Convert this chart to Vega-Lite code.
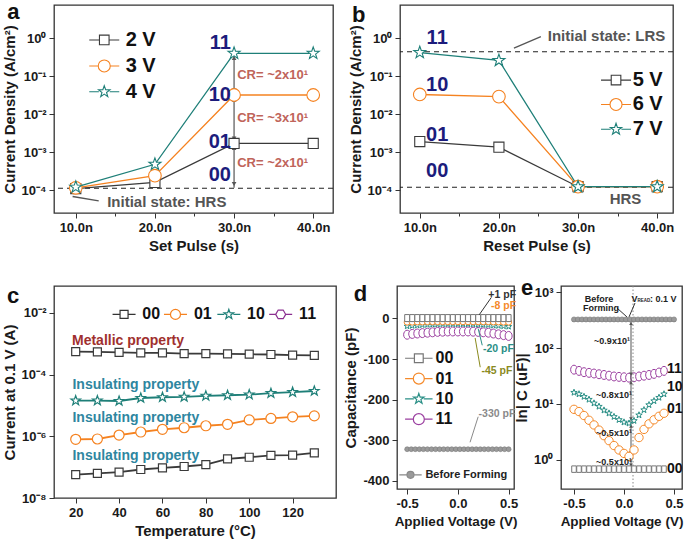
{
"$schema": "https://vega.github.io/schema/vega-lite/v6.json",
"background": "white",
"padding": {"left": 1, "top": 0, "right": 5, "bottom": 5},
"bounds": "full",
"spacing": 22,
"config": {
  "font": "Liberation Sans",
  "view": {"stroke": "#333", "strokeWidth": 1.3},
  "axis": {"grid": false, "domain": false, "labelFont": "Liberation Sans", "labelFontSize": 13, "labelFontWeight": "bold", "labelColor": "#1a1a1a", "titleFont": "Liberation Sans", "titleFontSize": 15, "titleFontWeight": "bold", "titleColor": "#1a1a1a", "tickColor": "#333", "tickSize": 5, "labelPadding": 3, "labelFlush": false, "labelOverlap": false},
  "text": {"font": "Liberation Sans", "fontWeight": "bold", "baseline": "middle"}
},
"datasets": {
  "setPulse": [
    {"pulse_ns": 10, "bias": "2 V", "J": 0.00011}, {"pulse_ns": 20, "bias": "2 V", "J": 0.00016}, {"pulse_ns": 30, "bias": "2 V", "J": 0.0017}, {"pulse_ns": 40, "bias": "2 V", "J": 0.0017},
    {"pulse_ns": 10, "bias": "3 V", "J": 0.000115}, {"pulse_ns": 20, "bias": "3 V", "J": 0.00024}, {"pulse_ns": 30, "bias": "3 V", "J": 0.032}, {"pulse_ns": 40, "bias": "3 V", "J": 0.032},
    {"pulse_ns": 10, "bias": "4 V", "J": 0.00012}, {"pulse_ns": 20, "bias": "4 V", "J": 0.00048}, {"pulse_ns": 30, "bias": "4 V", "J": 0.4}, {"pulse_ns": 40, "bias": "4 V", "J": 0.4}
  ],
  "resetPulse": [
    {"pulse_ns": 10, "bias": "5 V", "J": 0.0019}, {"pulse_ns": 20, "bias": "5 V", "J": 0.00135}, {"pulse_ns": 30, "bias": "5 V", "J": 0.000123}, {"pulse_ns": 40, "bias": "5 V", "J": 0.000123},
    {"pulse_ns": 10, "bias": "6 V", "J": 0.033}, {"pulse_ns": 20, "bias": "6 V", "J": 0.029}, {"pulse_ns": 30, "bias": "6 V", "J": 0.000123}, {"pulse_ns": 40, "bias": "6 V", "J": 0.000123},
    {"pulse_ns": 10, "bias": "7 V", "J": 0.42}, {"pulse_ns": 20, "bias": "7 V", "J": 0.26}, {"pulse_ns": 30, "bias": "7 V", "J": 0.000123}, {"pulse_ns": 40, "bias": "7 V", "J": 0.000123}
  ],
  "temperature": [
    {"T": 20, "state": "00", "I": 5.7e-8}, {"T": 30, "state": "00", "I": 6.3e-8}, {"T": 40, "state": "00", "I": 6.9e-8}, {"T": 50, "state": "00", "I": 8.4e-8}, {"T": 60, "state": "00", "I": 9.5e-8}, {"T": 70, "state": "00", "I": 1.05e-7}, {"T": 80, "state": "00", "I": 1.2e-7}, {"T": 90, "state": "00", "I": 1.85e-7}, {"T": 100, "state": "00", "I": 2.1e-7}, {"T": 110, "state": "00", "I": 2.4e-7}, {"T": 120, "state": "00", "I": 2.45e-7}, {"T": 130, "state": "00", "I": 2.9e-7},
    {"T": 20, "state": "01", "I": 8.0e-7}, {"T": 30, "state": "01", "I": 8.2e-7}, {"T": 40, "state": "01", "I": 1.1e-6}, {"T": 50, "state": "01", "I": 1.38e-6}, {"T": 60, "state": "01", "I": 1.69e-6}, {"T": 70, "state": "01", "I": 1.9e-6}, {"T": 80, "state": "01", "I": 2.2e-6}, {"T": 90, "state": "01", "I": 2.45e-6}, {"T": 100, "state": "01", "I": 3.4e-6}, {"T": 110, "state": "01", "I": 3.8e-6}, {"T": 120, "state": "01", "I": 4.3e-6}, {"T": 130, "state": "01", "I": 4.6e-6},
    {"T": 20, "state": "10", "I": 1.44e-5}, {"T": 30, "state": "10", "I": 1.44e-5}, {"T": 40, "state": "10", "I": 1.4e-5}, {"T": 50, "state": "10", "I": 1.75e-5}, {"T": 60, "state": "10", "I": 1.85e-5}, {"T": 70, "state": "10", "I": 1.9e-5}, {"T": 80, "state": "10", "I": 2.05e-5}, {"T": 90, "state": "10", "I": 2.15e-5}, {"T": 100, "state": "10", "I": 2.25e-5}, {"T": 110, "state": "10", "I": 2.5e-5}, {"T": 120, "state": "10", "I": 2.7e-5}, {"T": 130, "state": "10", "I": 2.95e-5},
    {"T": 20, "state": "11", "I": 5.6e-4}, {"T": 30, "state": "11", "I": 5.5e-4}, {"T": 40, "state": "11", "I": 5.3e-4}, {"T": 50, "state": "11", "I": 5.1e-4}, {"T": 60, "state": "11", "I": 5.1e-4}, {"T": 70, "state": "11", "I": 4.8e-4}, {"T": 80, "state": "11", "I": 4.8e-4}, {"T": 90, "state": "11", "I": 4.7e-4}, {"T": 100, "state": "11", "I": 4.6e-4}, {"T": 110, "state": "11", "I": 4.5e-4}, {"T": 120, "state": "11", "I": 4.3e-4}, {"T": 130, "state": "11", "I": 4.2e-4}
  ],
  "capD": [
    {"V": -0.5, "state": "11", "C": -40}, {"V": -0.45, "state": "11", "C": -38}, {"V": -0.4, "state": "11", "C": -37}, {"V": -0.35, "state": "11", "C": -36}, {"V": -0.3, "state": "11", "C": -35}, {"V": -0.25, "state": "11", "C": -34}, {"V": -0.2, "state": "11", "C": -33}, {"V": -0.15, "state": "11", "C": -32.5}, {"V": -0.1, "state": "11", "C": -32}, {"V": -0.05, "state": "11", "C": -32}, {"V": 0, "state": "11", "C": -32}, {"V": 0.05, "state": "11", "C": -32}, {"V": 0.1, "state": "11", "C": -32}, {"V": 0.15, "state": "11", "C": -32.5}, {"V": 0.2, "state": "11", "C": -33}, {"V": 0.25, "state": "11", "C": -34}, {"V": 0.3, "state": "11", "C": -35}, {"V": 0.35, "state": "11", "C": -37}, {"V": 0.4, "state": "11", "C": -39}, {"V": 0.45, "state": "11", "C": -41}, {"V": 0.5, "state": "11", "C": -43},
    {"V": -0.5, "state": "10", "C": -19}, {"V": -0.45, "state": "10", "C": -18}, {"V": -0.4, "state": "10", "C": -17}, {"V": -0.35, "state": "10", "C": -16}, {"V": -0.3, "state": "10", "C": -15.5}, {"V": -0.25, "state": "10", "C": -15}, {"V": -0.2, "state": "10", "C": -14.5}, {"V": -0.15, "state": "10", "C": -14}, {"V": -0.1, "state": "10", "C": -14}, {"V": -0.05, "state": "10", "C": -14}, {"V": 0, "state": "10", "C": -14}, {"V": 0.05, "state": "10", "C": -14}, {"V": 0.1, "state": "10", "C": -14}, {"V": 0.15, "state": "10", "C": -14.5}, {"V": 0.2, "state": "10", "C": -15}, {"V": 0.25, "state": "10", "C": -15.5}, {"V": 0.3, "state": "10", "C": -16}, {"V": 0.35, "state": "10", "C": -17}, {"V": 0.4, "state": "10", "C": -18}, {"V": 0.45, "state": "10", "C": -19}, {"V": 0.5, "state": "10", "C": -20},
    {"V": -0.5, "state": "01", "C": -9}, {"V": -0.45, "state": "01", "C": -9}, {"V": -0.4, "state": "01", "C": -8.5}, {"V": -0.35, "state": "01", "C": -8.5}, {"V": -0.3, "state": "01", "C": -8}, {"V": -0.25, "state": "01", "C": -8}, {"V": -0.2, "state": "01", "C": -8}, {"V": -0.15, "state": "01", "C": -8}, {"V": -0.1, "state": "01", "C": -8}, {"V": -0.05, "state": "01", "C": -8}, {"V": 0, "state": "01", "C": -8}, {"V": 0.05, "state": "01", "C": -8}, {"V": 0.1, "state": "01", "C": -8}, {"V": 0.15, "state": "01", "C": -8}, {"V": 0.2, "state": "01", "C": -8}, {"V": 0.25, "state": "01", "C": -8}, {"V": 0.3, "state": "01", "C": -8}, {"V": 0.35, "state": "01", "C": -8.5}, {"V": 0.4, "state": "01", "C": -8.5}, {"V": 0.45, "state": "01", "C": -9}, {"V": 0.5, "state": "01", "C": -9},
    {"V": -0.5, "state": "00", "C": 1}, {"V": -0.45, "state": "00", "C": 1}, {"V": -0.4, "state": "00", "C": 1}, {"V": -0.35, "state": "00", "C": 1}, {"V": -0.3, "state": "00", "C": 1}, {"V": -0.25, "state": "00", "C": 1}, {"V": -0.2, "state": "00", "C": 1}, {"V": -0.15, "state": "00", "C": 1}, {"V": -0.1, "state": "00", "C": 1}, {"V": -0.05, "state": "00", "C": 1}, {"V": 0, "state": "00", "C": 1}, {"V": 0.05, "state": "00", "C": 1}, {"V": 0.1, "state": "00", "C": 1}, {"V": 0.15, "state": "00", "C": 1}, {"V": 0.2, "state": "00", "C": 1}, {"V": 0.25, "state": "00", "C": 1}, {"V": 0.3, "state": "00", "C": 1}, {"V": 0.35, "state": "00", "C": 1}, {"V": 0.4, "state": "00", "C": 1}, {"V": 0.45, "state": "00", "C": 1}, {"V": 0.5, "state": "00", "C": 1}
  ],
  "bfD": [
    {"V": -0.5, "C": -322}, {"V": -0.46, "C": -322}, {"V": -0.42, "C": -322}, {"V": -0.38, "C": -322}, {"V": -0.34, "C": -322}, {"V": -0.3, "C": -322}, {"V": -0.26, "C": -322}, {"V": -0.22, "C": -322}, {"V": -0.18, "C": -322}, {"V": -0.14, "C": -322}, {"V": -0.1, "C": -322}, {"V": -0.06, "C": -322}, {"V": -0.02, "C": -322}, {"V": 0.02, "C": -322}, {"V": 0.06, "C": -322}, {"V": 0.1, "C": -322}, {"V": 0.14, "C": -322}, {"V": 0.18, "C": -322}, {"V": 0.22, "C": -322}, {"V": 0.26, "C": -322}, {"V": 0.3, "C": -322}, {"V": 0.34, "C": -322}, {"V": 0.38, "C": -322}, {"V": 0.42, "C": -322}, {"V": 0.46, "C": -322}, {"V": 0.5, "C": -322}
  ],
  "capE": [
    {"V": -0.5, "state": "11", "C": 41}, {"V": -0.45, "state": "11", "C": 39}, {"V": -0.4, "state": "11", "C": 37}, {"V": -0.35, "state": "11", "C": 36}, {"V": -0.3, "state": "11", "C": 35}, {"V": -0.25, "state": "11", "C": 34}, {"V": -0.2, "state": "11", "C": 33}, {"V": -0.15, "state": "11", "C": 32}, {"V": -0.1, "state": "11", "C": 31}, {"V": -0.05, "state": "11", "C": 30.5}, {"V": 0, "state": "11", "C": 30}, {"V": 0.05, "state": "11", "C": 29.5}, {"V": 0.1, "state": "11", "C": 30}, {"V": 0.15, "state": "11", "C": 31}, {"V": 0.2, "state": "11", "C": 32}, {"V": 0.25, "state": "11", "C": 33}, {"V": 0.3, "state": "11", "C": 34.5}, {"V": 0.35, "state": "11", "C": 36.5}, {"V": 0.4, "state": "11", "C": 39},
    {"V": -0.5, "state": "10", "C": 16}, {"V": -0.45, "state": "10", "C": 15}, {"V": -0.4, "state": "10", "C": 13.5}, {"V": -0.35, "state": "10", "C": 12}, {"V": -0.3, "state": "10", "C": 10.3}, {"V": -0.25, "state": "10", "C": 9}, {"V": -0.2, "state": "10", "C": 7.7}, {"V": -0.15, "state": "10", "C": 6.8}, {"V": -0.1, "state": "10", "C": 5.9}, {"V": -0.05, "state": "10", "C": 5.2}, {"V": 0, "state": "10", "C": 4.7}, {"V": 0.05, "state": "10", "C": 4.5}, {"V": 0.1, "state": "10", "C": 5.0}, {"V": 0.15, "state": "10", "C": 6.3}, {"V": 0.2, "state": "10", "C": 7.8}, {"V": 0.25, "state": "10", "C": 9.6}, {"V": 0.3, "state": "10", "C": 11.3}, {"V": 0.35, "state": "10", "C": 13}, {"V": 0.4, "state": "10", "C": 15},
    {"V": -0.5, "state": "01", "C": 8}, {"V": -0.45, "state": "01", "C": 7.3}, {"V": -0.4, "state": "01", "C": 6.2}, {"V": -0.35, "state": "01", "C": 5.1}, {"V": -0.3, "state": "01", "C": 4.2}, {"V": -0.25, "state": "01", "C": 3.4}, {"V": -0.2, "state": "01", "C": 2.7}, {"V": -0.15, "state": "01", "C": 2.2}, {"V": -0.1, "state": "01", "C": 1.8}, {"V": -0.05, "state": "01", "C": 1.5}, {"V": 0, "state": "01", "C": 1.3}, {"V": 0.05, "state": "01", "C": 1.15}, {"V": 0.1, "state": "01", "C": 1.5}, {"V": 0.15, "state": "01", "C": 2.5}, {"V": 0.2, "state": "01", "C": 3.5}, {"V": 0.25, "state": "01", "C": 4.4}, {"V": 0.3, "state": "01", "C": 5.2}, {"V": 0.35, "state": "01", "C": 6.0}, {"V": 0.4, "state": "01", "C": 6.8},
    {"V": -0.5, "state": "00", "C": 0.68}, {"V": -0.45, "state": "00", "C": 0.68}, {"V": -0.4, "state": "00", "C": 0.68}, {"V": -0.35, "state": "00", "C": 0.68}, {"V": -0.3, "state": "00", "C": 0.68}, {"V": -0.25, "state": "00", "C": 0.68}, {"V": -0.2, "state": "00", "C": 0.68}, {"V": -0.15, "state": "00", "C": 0.68}, {"V": -0.1, "state": "00", "C": 0.68}, {"V": -0.05, "state": "00", "C": 0.68}, {"V": 0, "state": "00", "C": 0.68}, {"V": 0.05, "state": "00", "C": 0.68}, {"V": 0.1, "state": "00", "C": 0.68}, {"V": 0.15, "state": "00", "C": 0.68}, {"V": 0.2, "state": "00", "C": 0.68}, {"V": 0.25, "state": "00", "C": 0.68}, {"V": 0.3, "state": "00", "C": 0.68}, {"V": 0.35, "state": "00", "C": 0.68}, {"V": 0.4, "state": "00", "C": 0.68}
  ],
  "bfE": [
    {"V": -0.5, "C": 325}, {"V": -0.46, "C": 325}, {"V": -0.42, "C": 325}, {"V": -0.38, "C": 325}, {"V": -0.34, "C": 325}, {"V": -0.3, "C": 325}, {"V": -0.26, "C": 325}, {"V": -0.22, "C": 325}, {"V": -0.18, "C": 325}, {"V": -0.14, "C": 325}, {"V": -0.1, "C": 325}, {"V": -0.06, "C": 325}, {"V": -0.02, "C": 325}, {"V": 0.02, "C": 325}, {"V": 0.06, "C": 325}, {"V": 0.1, "C": 325}, {"V": 0.14, "C": 325}, {"V": 0.18, "C": 325}, {"V": 0.22, "C": 325}, {"V": 0.26, "C": 325}, {"V": 0.3, "C": 325}, {"V": 0.34, "C": 325}, {"V": 0.38, "C": 325}, {"V": 0.42, "C": 325}, {"V": 0.46, "C": 325}, {"V": 0.5, "C": 325}
  ]
},
"vconcat": [
  {"hconcat": [
    {"width": 279, "height": 208, "layer": [
      {"data": {"values": [{}]}, "mark": {"type": "rule", "strokeDash": [5, 4], "color": "#222", "strokeWidth": 1.2}, "encoding": {"y": {"datum": 0.000112}}},
      {"data": {"values": [{}]}, "mark": {"type": "rule", "color": "#555", "strokeWidth": 1.2}, "encoding": {"x": {"datum": 30}, "y": {"datum": 0.38}, "y2": {"datum": 0.000115}}},
      {"data": {"values": [{}]}, "mark": {"type": "point", "shape": "triangle-up", "size": 22, "filled": true, "color": "#555", "opacity": 1}, "encoding": {"x": {"datum": 30}, "y": {"datum": 0.3}}},
      {"data": {"values": [{}]}, "mark": {"type": "point", "shape": "triangle-down", "size": 22, "filled": true, "color": "#555", "opacity": 1}, "encoding": {"x": {"datum": 30}, "y": {"datum": 0.042}}},
      {"data": {"values": [{}]}, "mark": {"type": "point", "shape": "triangle-up", "size": 22, "filled": true, "color": "#555", "opacity": 1}, "encoding": {"x": {"datum": 30}, "y": {"datum": 0.024}}},
      {"data": {"values": [{}]}, "mark": {"type": "point", "shape": "triangle-down", "size": 22, "filled": true, "color": "#555", "opacity": 1}, "encoding": {"x": {"datum": 30}, "y": {"datum": 0.0023}}},
      {"data": {"values": [{}]}, "mark": {"type": "point", "shape": "triangle-up", "size": 22, "filled": true, "color": "#555", "opacity": 1}, "encoding": {"x": {"datum": 30}, "y": {"datum": 0.00128}}},
      {"data": {"values": [{}]}, "mark": {"type": "point", "shape": "triangle-down", "size": 22, "filled": true, "color": "#555", "opacity": 1}, "encoding": {"x": {"datum": 30}, "y": {"datum": 0.000145}}},
      {"data": {"values": [{}]}, "mark": {"type": "rule", "color": "#555", "strokeWidth": 1.3}, "encoding": {"x": {"datum": 12.9}, "y": {"datum": 0.000052}, "x2": {"datum": 9.6}, "y2": {"datum": 0.000068}}},
      {"data": {"name": "setPulse"}, "mark": {"type": "line", "strokeWidth": 1.3},
       "encoding": {
         "x": {"field": "pulse_ns", "type": "quantitative", "scale": {"domain": [7.25, 42.5], "nice": false, "zero": false}, "axis": {"values": [10, 15, 20, 25, 30, 35, 40], "labelExpr": "datum.value % 10 == 0 ? datum.value + '.0n' : ''", "tickSize": {"condition": {"test": "datum.value % 10 != 0", "value": 3}, "value": 5}, "title": "Set Pulse (s)"}},
         "y": {"field": "J", "type": "quantitative", "scale": {"type": "log", "domain": [0.000025, 7.5], "nice": false}, "axis": {"values": [0.0001, 0.001, 0.01, 0.1, 1], "labelExpr": "'10' + replace(replace(replace(replace(replace(replace(replace(replace(replace(replace('' + round(log(datum.value) / LN10), '-', '⁻'), '0', '⁰'), '1', '¹'), '2', '²'), '3', '³'), '4', '⁴'), '5', '⁵'), '6', '⁶'), '7', '⁷'), '8', '⁸')", "title": "Current Density (A/cm²)"}},
         "stroke": {"field": "bias", "type": "nominal", "scale": {"domain": ["2 V", "3 V", "4 V"], "range": ["#3a3a3a", "#F58220", "#1E7F78"]}, "legend": null}
       }},
      {"data": {"name": "setPulse"}, "mark": {"type": "point", "filled": true, "fill": "white", "opacity": 1, "size": 160, "strokeWidth": 1.1},
       "encoding": {
         "x": {"field": "pulse_ns", "type": "quantitative"},
         "y": {"field": "J", "type": "quantitative"},
         "stroke": {"field": "bias", "type": "nominal", "legend": null},
         "shape": {"field": "bias", "type": "nominal", "scale": {"domain": ["2 V", "3 V", "4 V"], "range": ["M-0.8,-0.8H0.8V0.8H-0.8Z", "circle", "M0,-1L0.235,-0.324L0.951,-0.309L0.38,0.124L0.588,0.809L0,0.4L-0.588,0.809L-0.38,0.124L-0.951,-0.309L-0.235,-0.324Z"]}, "legend": null}
       }},
      {"data": {"values": [{}]}, "mark": {"type": "text", "text": "11", "align": "right", "fontSize": 20, "color": "#1C1C7C"}, "encoding": {"x": {"datum": 29.6}, "y": {"datum": 0.74}}},
      {"data": {"values": [{}]}, "mark": {"type": "text", "text": "10", "align": "right", "fontSize": 20, "color": "#1C1C7C"}, "encoding": {"x": {"datum": 29.6}, "y": {"datum": 0.032}}},
      {"data": {"values": [{}]}, "mark": {"type": "text", "text": "01", "align": "right", "fontSize": 20, "color": "#1C1C7C"}, "encoding": {"x": {"datum": 29.6}, "y": {"datum": 0.0019}}},
      {"data": {"values": [{}]}, "mark": {"type": "text", "text": "00", "align": "right", "fontSize": 20, "color": "#1C1C7C"}, "encoding": {"x": {"datum": 29.6}, "y": {"datum": 0.00025}}},
      {"data": {"values": [{}]}, "mark": {"type": "text", "text": "CR= ~2x10¹", "align": "left", "fontSize": 13, "color": "#C0645A"}, "encoding": {"x": {"datum": 30.4}, "y": {"datum": 0.107}}},
      {"data": {"values": [{}]}, "mark": {"type": "text", "text": "CR= ~3x10¹", "align": "left", "fontSize": 13, "color": "#C0645A"}, "encoding": {"x": {"datum": 30.4}, "y": {"datum": 0.0079}}},
      {"data": {"values": [{}]}, "mark": {"type": "text", "text": "CR= ~2x10¹", "align": "left", "fontSize": 13, "color": "#C0645A"}, "encoding": {"x": {"datum": 30.4}, "y": {"datum": 0.00051}}},
      {"data": {"values": [{}]}, "mark": {"type": "text", "text": "Initial state: HRS", "align": "center", "fontSize": 15, "color": "#555"}, "encoding": {"x": {"datum": 21.5}, "y": {"datum": 0.00005}}},
      {"data": {"values": [{}]}, "mark": {"type": "text", "text": "a", "align": "left", "fontSize": 22, "color": "#111"}, "encoding": {"x": {"datum": 1.33}, "y": {"datum": 4.9}}},
      {"data": {"values": [{}]}, "mark": {"type": "point", "shape": "M-2.5,0H-0.8M0.8,0H2.5M-0.8,-0.8H0.8V0.8H-0.8Z", "size": 144, "filled": true, "fill": "white", "stroke": "#3a3a3a", "strokeWidth": 1.1, "opacity": 1}, "encoding": {"x": {"datum": 13.6}, "y": {"datum": 0.9}}},
      {"data": {"values": [{}]}, "mark": {"type": "point", "shape": "M-2.5,0H-1M1,0H2.5M-1,0A1,1,0,1,1,1,0A1,1,0,1,1,-1,0Z", "size": 144, "filled": true, "fill": "white", "stroke": "#F58220", "strokeWidth": 1.1, "opacity": 1}, "encoding": {"x": {"datum": 13.6}, "y": {"datum": 0.186}}},
      {"data": {"values": [{}]}, "mark": {"type": "point", "shape": "M-2.5,0H-0.9M0.9,0H2.5M0,-1L0.235,-0.324L0.951,-0.309L0.38,0.124L0.588,0.809L0,0.4L-0.588,0.809L-0.38,0.124L-0.951,-0.309L-0.235,-0.324Z", "size": 144, "filled": true, "fill": "white", "stroke": "#1E7F78", "strokeWidth": 1.1, "opacity": 1}, "encoding": {"x": {"datum": 13.6}, "y": {"datum": 0.039}}},
      {"data": {"values": [{}]}, "mark": {"type": "text", "text": "2 V", "align": "left", "fontSize": 20, "color": "#111"}, "encoding": {"x": {"datum": 16.3}, "y": {"datum": 0.9}}},
      {"data": {"values": [{}]}, "mark": {"type": "text", "text": "3 V", "align": "left", "fontSize": 20, "color": "#111"}, "encoding": {"x": {"datum": 16.3}, "y": {"datum": 0.186}}},
      {"data": {"values": [{}]}, "mark": {"type": "text", "text": "4 V", "align": "left", "fontSize": 20, "color": "#111"}, "encoding": {"x": {"datum": 16.3}, "y": {"datum": 0.039}}}
    ]},
    {"width": 273, "height": 208, "layer": [
      {"data": {"values": [{}]}, "mark": {"type": "rule", "strokeDash": [5, 4], "color": "#222", "strokeWidth": 1.2}, "encoding": {"y": {"datum": 0.44}}},
      {"data": {"values": [{}]}, "mark": {"type": "rule", "strokeDash": [5, 4], "color": "#222", "strokeWidth": 1.2}, "encoding": {"y": {"datum": 0.000119}}},
      {"data": {"values": [{}]}, "mark": {"type": "rule", "color": "#555", "strokeWidth": 1.3}, "encoding": {"x": {"datum": 25.3}, "y": {"datum": 1.1}, "x2": {"datum": 21.9}, "y2": {"datum": 0.55}}},
      {"data": {"name": "resetPulse"}, "mark": {"type": "line", "strokeWidth": 1.3},
       "encoding": {
         "x": {"field": "pulse_ns", "type": "quantitative", "scale": {"domain": [7.5, 42], "nice": false, "zero": false}, "axis": {"values": [10, 15, 20, 25, 30, 35, 40], "labelExpr": "datum.value % 10 == 0 ? datum.value + '.0n' : ''", "tickSize": {"condition": {"test": "datum.value % 10 != 0", "value": 3}, "value": 5}, "title": "Reset Pulse (s)"}},
         "y": {"field": "J", "type": "quantitative", "scale": {"type": "log", "domain": [0.000025, 7.5], "nice": false}, "axis": {"values": [0.0001, 0.001, 0.01, 0.1, 1], "labelExpr": "'10' + replace(replace(replace(replace(replace(replace(replace(replace(replace(replace('' + round(log(datum.value) / LN10), '-', '⁻'), '0', '⁰'), '1', '¹'), '2', '²'), '3', '³'), '4', '⁴'), '5', '⁵'), '6', '⁶'), '7', '⁷'), '8', '⁸')", "title": "Current Density (A/cm²)"}},
         "stroke": {"field": "bias", "type": "nominal", "scale": {"domain": ["5 V", "6 V", "7 V"], "range": ["#3a3a3a", "#F58220", "#1E7F78"]}, "legend": null}
       }},
      {"data": {"name": "resetPulse"}, "mark": {"type": "point", "filled": true, "fill": "white", "opacity": 1, "size": 160, "strokeWidth": 1.1},
       "encoding": {
         "x": {"field": "pulse_ns", "type": "quantitative"},
         "y": {"field": "J", "type": "quantitative"},
         "stroke": {"field": "bias", "type": "nominal", "legend": null},
         "shape": {"field": "bias", "type": "nominal", "scale": {"domain": ["5 V", "6 V", "7 V"], "range": ["M-0.8,-0.8H0.8V0.8H-0.8Z", "circle", "M0,-1L0.235,-0.324L0.951,-0.309L0.38,0.124L0.588,0.809L0,0.4L-0.588,0.809L-0.38,0.124L-0.951,-0.309L-0.235,-0.324Z"]}, "legend": null}
       }},
      {"data": {"values": [{}]}, "mark": {"type": "text", "text": "11", "align": "center", "fontSize": 20, "color": "#1C1C7C"}, "encoding": {"x": {"datum": 12.2}, "y": {"datum": 1.0}}},
      {"data": {"values": [{}]}, "mark": {"type": "text", "text": "10", "align": "center", "fontSize": 20, "color": "#1C1C7C"}, "encoding": {"x": {"datum": 12.2}, "y": {"datum": 0.059}}},
      {"data": {"values": [{}]}, "mark": {"type": "text", "text": "01", "align": "center", "fontSize": 20, "color": "#1C1C7C"}, "encoding": {"x": {"datum": 12.2}, "y": {"datum": 0.0028}}},
      {"data": {"values": [{}]}, "mark": {"type": "text", "text": "00", "align": "center", "fontSize": 20, "color": "#1C1C7C"}, "encoding": {"x": {"datum": 12.2}, "y": {"datum": 0.00031}}},
      {"data": {"values": [{}]}, "mark": {"type": "text", "text": "Initial state: LRS", "align": "center", "fontSize": 15, "color": "#555"}, "encoding": {"x": {"datum": 33.6}, "y": {"datum": 1.15}}},
      {"data": {"values": [{}]}, "mark": {"type": "text", "text": "HRS", "align": "center", "fontSize": 15, "color": "#555"}, "encoding": {"x": {"datum": 36}, "y": {"datum": 0.000059}}},
      {"data": {"values": [{}]}, "mark": {"type": "text", "text": "b", "align": "left", "fontSize": 22, "color": "#111"}, "encoding": {"x": {"datum": 1.43}, "y": {"datum": 4.1}}},
      {"data": {"values": [{}]}, "mark": {"type": "point", "shape": "M-2.5,0H-0.8M0.8,0H2.5M-0.8,-0.8H0.8V0.8H-0.8Z", "size": 144, "filled": true, "fill": "white", "stroke": "#3a3a3a", "strokeWidth": 1.1, "opacity": 1}, "encoding": {"x": {"datum": 34.8}, "y": {"datum": 0.079}}},
      {"data": {"values": [{}]}, "mark": {"type": "point", "shape": "M-2.5,0H-1M1,0H2.5M-1,0A1,1,0,1,1,1,0A1,1,0,1,1,-1,0Z", "size": 144, "filled": true, "fill": "white", "stroke": "#F58220", "strokeWidth": 1.1, "opacity": 1}, "encoding": {"x": {"datum": 34.8}, "y": {"datum": 0.018}}},
      {"data": {"values": [{}]}, "mark": {"type": "point", "shape": "M-2.5,0H-0.9M0.9,0H2.5M0,-1L0.235,-0.324L0.951,-0.309L0.38,0.124L0.588,0.809L0,0.4L-0.588,0.809L-0.38,0.124L-0.951,-0.309L-0.235,-0.324Z", "size": 144, "filled": true, "fill": "white", "stroke": "#1E7F78", "strokeWidth": 1.1, "opacity": 1}, "encoding": {"x": {"datum": 34.8}, "y": {"datum": 0.004}}},
      {"data": {"values": [{}]}, "mark": {"type": "text", "text": "5 V", "align": "left", "fontSize": 20, "color": "#111"}, "encoding": {"x": {"datum": 36.9}, "y": {"datum": 0.079}}},
      {"data": {"values": [{}]}, "mark": {"type": "text", "text": "6 V", "align": "left", "fontSize": 20, "color": "#111"}, "encoding": {"x": {"datum": 36.9}, "y": {"datum": 0.018}}},
      {"data": {"values": [{}]}, "mark": {"type": "text", "text": "7 V", "align": "left", "fontSize": 20, "color": "#111"}, "encoding": {"x": {"datum": 36.9}, "y": {"datum": 0.004}}}
    ]}
  ], "spacing": 67, "bounds": "flush"},
  {"hconcat": [
    {"width": 282, "height": 212, "layer": [
      {"data": {"name": "temperature"}, "mark": {"type": "line", "strokeWidth": 1.8},
       "encoding": {
         "x": {"field": "T", "type": "quantitative", "scale": {"domain": [10, 140], "nice": false, "zero": false}, "axis": {"values": [20, 30, 40, 50, 60, 70, 80, 90, 100, 110, 120, 130], "labelExpr": "datum.value % 20 == 0 ? datum.value : ''", "tickSize": {"condition": {"test": "datum.value % 20 != 0", "value": 3}, "value": 5}, "title": "Temperature (°C)"}},
         "y": {"field": "I", "type": "quantitative", "scale": {"type": "log", "domain": [1e-8, 0.075], "nice": false}, "axis": {"values": [1e-8, 1e-6, 0.0001, 0.01], "labelExpr": "'10' + replace(replace(replace(replace(replace(replace(replace(replace(replace(replace('' + round(log(datum.value) / LN10), '-', '⁻'), '0', '⁰'), '1', '¹'), '2', '²'), '3', '³'), '4', '⁴'), '5', '⁵'), '6', '⁶'), '7', '⁷'), '8', '⁸')", "title": "Current at 0.1 V (A)"}},
         "stroke": {"field": "state", "type": "nominal", "scale": {"domain": ["00", "01", "10", "11"], "range": ["#333333", "#F58220", "#1E7F78", "#8B2F8F"]}, "legend": null}
       }},
      {"data": {"name": "temperature"}, "mark": {"type": "point", "filled": true, "fill": "white", "opacity": 1, "size": 100, "strokeWidth": 1.2},
       "encoding": {
         "x": {"field": "T", "type": "quantitative"},
         "y": {"field": "I", "type": "quantitative"},
         "stroke": {"field": "state", "type": "nominal", "legend": null},
         "shape": {"field": "state", "type": "nominal", "scale": {"domain": ["00", "01", "10", "11"], "range": ["M-0.8,-0.8H0.8V0.8H-0.8Z", "circle", "M0,-1L0.235,-0.324L0.951,-0.309L0.38,0.124L0.588,0.809L0,0.4L-0.588,0.809L-0.38,0.124L-0.951,-0.309L-0.235,-0.324Z", "M-1,0L-0.5,-0.866L0.5,-0.866L1,0L0.5,0.866L-0.5,0.866Z"]}, "legend": null}
       }},
      {"data": {"values": [{}]}, "mark": {"type": "text", "text": "Metallic property", "align": "left", "fontSize": 14, "color": "#A0302E"}, "encoding": {"x": {"datum": 18.3}, "y": {"datum": 0.0012}}},
      {"data": {"values": [{}]}, "mark": {"type": "text", "text": "Insulating property", "align": "left", "fontSize": 14, "color": "#2E86A0"}, "encoding": {"x": {"datum": 18.5}, "y": {"datum": 0.000047}}},
      {"data": {"values": [{}]}, "mark": {"type": "text", "text": "Insulating property", "align": "left", "fontSize": 14, "color": "#2E86A0"}, "encoding": {"x": {"datum": 18.5}, "y": {"datum": 0.0000038}}},
      {"data": {"values": [{}]}, "mark": {"type": "text", "text": "Insulating property", "align": "left", "fontSize": 14, "color": "#2E86A0"}, "encoding": {"x": {"datum": 18.5}, "y": {"datum": 2.3e-7}}},
      {"data": {"values": [{}]}, "mark": {"type": "point", "shape": "M-2.3,0H-0.8M0.8,0H2.3M-0.8,-0.8H0.8V0.8H-0.8Z", "size": 100, "filled": true, "fill": "white", "stroke": "#333", "strokeWidth": 1.2, "opacity": 1}, "encoding": {"x": {"datum": 42.3}, "y": {"datum": 0.009}}},
      {"data": {"values": [{}]}, "mark": {"type": "point", "shape": "M-2.3,0H-1M1,0H2.3M-1,0A1,1,0,1,1,1,0A1,1,0,1,1,-1,0Z", "size": 100, "filled": true, "fill": "white", "stroke": "#F58220", "strokeWidth": 1.2, "opacity": 1}, "encoding": {"x": {"datum": 66}, "y": {"datum": 0.009}}},
      {"data": {"values": [{}]}, "mark": {"type": "point", "shape": "M-2.3,0H-0.9M0.9,0H2.3M0,-1L0.235,-0.324L0.951,-0.309L0.38,0.124L0.588,0.809L0,0.4L-0.588,0.809L-0.38,0.124L-0.951,-0.309L-0.235,-0.324Z", "size": 100, "filled": true, "fill": "white", "stroke": "#1E7F78", "strokeWidth": 1.2, "opacity": 1}, "encoding": {"x": {"datum": 90.6}, "y": {"datum": 0.009}}},
      {"data": {"values": [{}]}, "mark": {"type": "point", "shape": "M-2.3,0H-1M1,0H2.3M-1,0L-0.5,-0.866L0.5,-0.866L1,0L0.5,0.866L-0.5,0.866Z", "size": 100, "filled": true, "fill": "white", "stroke": "#8B2F8F", "strokeWidth": 1.2, "opacity": 1}, "encoding": {"x": {"datum": 114.5}, "y": {"datum": 0.009}}},
      {"data": {"values": [{}]}, "mark": {"type": "text", "text": "00", "align": "left", "fontSize": 16, "color": "#111"}, "encoding": {"x": {"datum": 50.7}, "y": {"datum": 0.009}}},
      {"data": {"values": [{}]}, "mark": {"type": "text", "text": "01", "align": "left", "fontSize": 16, "color": "#111"}, "encoding": {"x": {"datum": 74.5}, "y": {"datum": 0.009}}},
      {"data": {"values": [{}]}, "mark": {"type": "text", "text": "10", "align": "left", "fontSize": 16, "color": "#111"}, "encoding": {"x": {"datum": 99}, "y": {"datum": 0.009}}},
      {"data": {"values": [{}]}, "mark": {"type": "text", "text": "11", "align": "left", "fontSize": 16, "color": "#111"}, "encoding": {"x": {"datum": 123}, "y": {"datum": 0.009}}},
      {"data": {"values": [{}]}, "mark": {"type": "text", "text": "c", "align": "left", "fontSize": 22, "color": "#111"}, "encoding": {"x": {"datum": -11.7}, "y": {"datum": 0.035}}}
    ]},
    {"hconcat": [
      {"width": 117, "height": 203, "layer": [
        {"data": {"name": "capD"}, "transform": [{"filter": "datum.state === '11'"}], "mark": {"type": "point", "shape": "M-0.78,0A0.78,1,0,1,1,0.78,0A0.78,1,0,1,1,-0.78,0Z", "size": 81, "filled": true, "fill": "white", "stroke": "#9B3FA0", "strokeWidth": 1, "opacity": 1},
         "encoding": {
           "x": {"field": "V", "type": "quantitative", "scale": {"domain": [-0.6, 0.553], "nice": false, "zero": false}, "axis": {"values": [-0.5, -0.25, 0, 0.25, 0.5], "labelExpr": "abs(datum.value) == 0.25 ? '' : replace(format(datum.value, '.1f'), '−', '-')", "tickSize": {"condition": {"test": "abs(datum.value) == 0.25", "value": 3}, "value": 5}, "title": "Applied Voltage (V)", "titleFontSize": 13.5}},
           "y": {"field": "C", "type": "quantitative", "scale": {"domain": [-420, 80], "nice": false, "zero": false}, "axis": {"values": [-400, -350, -300, -250, -200, -150, -100, -50, 0, 50], "labelExpr": "datum.value % 100 != 0 ? '' : replace(format(datum.value, 'd'), '−', '-')", "tickSize": {"condition": {"test": "datum.value % 100 != 0", "value": 3}, "value": 5}, "title": "Capacitance (pF)"}}
         }},
        {"data": {"name": "capD"}, "transform": [{"filter": "datum.state === '10'"}], "mark": {"type": "point", "shape": "M0,-1L0.235,-0.324L0.951,-0.309L0.38,0.124L0.588,0.809L0,0.4L-0.588,0.809L-0.38,0.124L-0.951,-0.309L-0.235,-0.324Z", "size": 40, "filled": true, "fill": "white", "stroke": "#2A8F86", "strokeWidth": 1, "opacity": 1},
         "encoding": {"x": {"field": "V", "type": "quantitative"}, "y": {"field": "C", "type": "quantitative"}}},
        {"data": {"name": "capD"}, "transform": [{"filter": "datum.state === '01'"}], "mark": {"type": "point", "shape": "circle", "size": 36, "filled": true, "fill": "white", "stroke": "#F58A2B", "strokeWidth": 1, "opacity": 1},
         "encoding": {"x": {"field": "V", "type": "quantitative"}, "y": {"field": "C", "type": "quantitative"}}},
        {"data": {"name": "capD"}, "transform": [{"filter": "datum.state === '00'"}], "mark": {"type": "point", "shape": "M-0.7,-1H0.7V1H-0.7Z", "size": 49, "filled": true, "fill": "white", "stroke": "#777", "strokeWidth": 1, "opacity": 1},
         "encoding": {"x": {"field": "V", "type": "quantitative"}, "y": {"field": "C", "type": "quantitative"}}},
        {"data": {"name": "bfD"}, "mark": {"type": "point", "shape": "circle", "size": 24, "filled": true, "fill": "#9a9a9a", "stroke": "#777", "strokeWidth": 0.6, "opacity": 1},
         "encoding": {"x": {"field": "V", "type": "quantitative"}, "y": {"field": "C", "type": "quantitative"}}},
        {"data": {"values": [{}]}, "mark": {"type": "rule", "color": "#333", "strokeWidth": 1}, "encoding": {"x": {"datum": 0.33}, "y": {"datum": 52}, "x2": {"datum": 0.21}, "y2": {"datum": 9}}},
        {"data": {"values": [{}]}, "mark": {"type": "rule", "color": "#2A8F86", "strokeWidth": 1}, "encoding": {"x": {"datum": 0.24}, "y": {"datum": -66}, "x2": {"datum": 0.2}, "y2": {"datum": -25}}},
        {"data": {"values": [{}]}, "mark": {"type": "rule", "color": "#8A8A1E", "strokeWidth": 1}, "encoding": {"x": {"datum": 0.22}, "y": {"datum": -120}, "x2": {"datum": 0.17}, "y2": {"datum": -48}}},
        {"data": {"values": [{}]}, "mark": {"type": "rule", "color": "#8a8a8a", "strokeWidth": 1}, "encoding": {"x": {"datum": 0.2}, "y": {"datum": -242}, "x2": {"datum": 0.12}, "y2": {"datum": -305}}},
        {"data": {"values": [{}]}, "mark": {"type": "point", "shape": "M-2.5,0H-0.8M0.8,0H2.5M-0.8,-0.8H0.8V0.8H-0.8Z", "size": 121, "filled": true, "fill": "white", "stroke": "#777", "strokeWidth": 1.2, "opacity": 1}, "encoding": {"x": {"datum": -0.385}, "y": {"datum": -98}}},
        {"data": {"values": [{}]}, "mark": {"type": "point", "shape": "M-2.5,0H-1M1,0H2.5M-1,0A1,1,0,1,1,1,0A1,1,0,1,1,-1,0Z", "size": 121, "filled": true, "fill": "white", "stroke": "#F58A2B", "strokeWidth": 1.2, "opacity": 1}, "encoding": {"x": {"datum": -0.385}, "y": {"datum": -148}}},
        {"data": {"values": [{}]}, "mark": {"type": "point", "shape": "M-2.5,0H-0.9M0.9,0H2.5M0,-1L0.235,-0.324L0.951,-0.309L0.38,0.124L0.588,0.809L0,0.4L-0.588,0.809L-0.38,0.124L-0.951,-0.309L-0.235,-0.324Z", "size": 121, "filled": true, "fill": "white", "stroke": "#2A8F86", "strokeWidth": 1.2, "opacity": 1}, "encoding": {"x": {"datum": -0.385}, "y": {"datum": -198}}},
        {"data": {"values": [{}]}, "mark": {"type": "point", "shape": "M-2.5,0H-1M1,0H2.5M-1,0A1,1,0,1,1,1,0A1,1,0,1,1,-1,0Z", "size": 121, "filled": true, "fill": "white", "stroke": "#9B3FA0", "strokeWidth": 1.2, "opacity": 1}, "encoding": {"x": {"datum": -0.385}, "y": {"datum": -248}}},
        {"data": {"values": [{}]}, "mark": {"type": "point", "shape": "M-3.2,0H-1M1,0H3.2M-1,0A1,1,0,1,1,1,0A1,1,0,1,1,-1,0Z", "size": 49, "filled": true, "fill": "#9a9a9a", "stroke": "#888", "strokeWidth": 1.2, "opacity": 1}, "encoding": {"x": {"datum": -0.467}, "y": {"datum": -385}}},
        {"data": {"values": [{}]}, "mark": {"type": "text", "text": "00", "align": "left", "fontSize": 16, "color": "#111"}, "encoding": {"x": {"datum": -0.22}, "y": {"datum": -98}}},
        {"data": {"values": [{}]}, "mark": {"type": "text", "text": "01", "align": "left", "fontSize": 16, "color": "#111"}, "encoding": {"x": {"datum": -0.22}, "y": {"datum": -148}}},
        {"data": {"values": [{}]}, "mark": {"type": "text", "text": "10", "align": "left", "fontSize": 16, "color": "#111"}, "encoding": {"x": {"datum": -0.22}, "y": {"datum": -198}}},
        {"data": {"values": [{}]}, "mark": {"type": "text", "text": "11", "align": "left", "fontSize": 16, "color": "#111"}, "encoding": {"x": {"datum": -0.22}, "y": {"datum": -248}}},
        {"data": {"values": [{}]}, "mark": {"type": "text", "text": "Before Forming", "align": "left", "fontSize": 11, "color": "#222"}, "encoding": {"x": {"datum": -0.32}, "y": {"datum": -385}}},
        {"data": {"values": [{}]}, "mark": {"type": "text", "text": "+1 pF", "align": "center", "fontSize": 10.5, "color": "#333"}, "encoding": {"x": {"datum": 0.437}, "y": {"datum": 58}}},
        {"data": {"values": [{}]}, "mark": {"type": "text", "text": "-8 pF", "align": "center", "fontSize": 10.5, "color": "#F58A2B"}, "encoding": {"x": {"datum": 0.45}, "y": {"datum": 31}}},
        {"data": {"values": [{}]}, "mark": {"type": "text", "text": "-20 pF", "align": "center", "fontSize": 10.5, "color": "#2A8F86"}, "encoding": {"x": {"datum": 0.4}, "y": {"datum": -76}}},
        {"data": {"values": [{}]}, "mark": {"type": "text", "text": "-45 pF", "align": "center", "fontSize": 10.5, "color": "#8A8A1E"}, "encoding": {"x": {"datum": 0.385}, "y": {"datum": -129}}},
        {"data": {"values": [{}]}, "mark": {"type": "text", "text": "-330 pF", "align": "center", "fontSize": 10.5, "color": "#8a8a8a"}, "encoding": {"x": {"datum": 0.385}, "y": {"datum": -236}}},
        {"data": {"values": [{}]}, "mark": {"type": "text", "text": "d", "align": "left", "fontSize": 22, "color": "#111"}, "encoding": {"x": {"datum": -1.026}, "y": {"datum": 61}}}
      ]},
      {"width": 121, "height": 203, "layer": [
        {"data": {"name": "capE"}, "transform": [{"filter": "datum.state === '11'"}], "mark": {"type": "point", "shape": "M-0.75,0A0.75,1,0,1,1,0.75,0A0.75,1,0,1,1,-0.75,0Z", "size": 81, "filled": true, "fill": "white", "stroke": "#9B3FA0", "strokeWidth": 1, "opacity": 1},
         "encoding": {
           "x": {"field": "V", "type": "quantitative", "scale": {"domain": [-0.63, 0.58], "nice": false, "zero": false}, "axis": {"values": [-0.5, -0.25, 0, 0.25, 0.5], "labelExpr": "abs(datum.value) == 0.25 ? '' : replace(format(datum.value, '.1f'), '−', '-')", "tickSize": {"condition": {"test": "abs(datum.value) == 0.25", "value": 3}, "value": 5}, "title": "Applied Voltage (V)", "titleFontSize": 13.5}},
           "y": {"field": "C", "type": "quantitative", "scale": {"type": "log", "domain": [0.3, 1290], "nice": false}, "axis": {"values": [1, 10, 100, 1000], "labelExpr": "'10' + replace(replace(replace(replace(replace(replace(replace(replace(replace(replace('' + round(log(datum.value) / LN10), '-', '⁻'), '0', '⁰'), '1', '¹'), '2', '²'), '3', '³'), '4', '⁴'), '5', '⁵'), '6', '⁶'), '7', '⁷'), '8', '⁸')", "title": "ln| C (uF)|"}}
         }},
        {"data": {"values": [{}]}, "mark": {"type": "rule", "strokeDash": [1.5, 2], "color": "#888", "strokeWidth": 1}, "encoding": {"x": {"datum": 0.09}}},
        {"data": {"values": [{}]}, "mark": {"type": "rule", "color": "#555", "strokeWidth": 1}, "encoding": {"x": {"datum": 0.07}, "y": {"datum": 300}, "y2": {"datum": 0.72}}},
        {"data": {"values": [{}]}, "mark": {"type": "rule", "color": "#333", "strokeWidth": 1}, "encoding": {"x": {"datum": -0.07}, "y": {"datum": 520}, "x2": {"datum": 0.03}, "y2": {"datum": 360}}},
        {"data": {"values": [{}]}, "mark": {"type": "rule", "color": "#333", "strokeWidth": 1}, "encoding": {"x": {"datum": 0.11}, "y": {"datum": 640}, "x2": {"datum": 0.05}, "y2": {"datum": 360}}},
        {"data": {"values": [{}]}, "mark": {"type": "point", "shape": "triangle-up", "size": 14, "filled": true, "color": "#555", "opacity": 1}, "encoding": {"x": {"datum": 0.07}, "y": {"datum": 275}}},
        {"data": {"values": [{}]}, "mark": {"type": "point", "shape": "triangle-down", "size": 14, "filled": true, "color": "#555", "opacity": 1}, "encoding": {"x": {"datum": 0.07}, "y": {"datum": 34}}},
        {"data": {"values": [{}]}, "mark": {"type": "point", "shape": "triangle-up", "size": 14, "filled": true, "color": "#555", "opacity": 1}, "encoding": {"x": {"datum": 0.07}, "y": {"datum": 24}}},
        {"data": {"values": [{}]}, "mark": {"type": "point", "shape": "triangle-down", "size": 14, "filled": true, "color": "#555", "opacity": 1}, "encoding": {"x": {"datum": 0.07}, "y": {"datum": 5.4}}},
        {"data": {"values": [{}]}, "mark": {"type": "point", "shape": "triangle-up", "size": 14, "filled": true, "color": "#555", "opacity": 1}, "encoding": {"x": {"datum": 0.07}, "y": {"datum": 4.0}}},
        {"data": {"values": [{}]}, "mark": {"type": "point", "shape": "triangle-down", "size": 14, "filled": true, "color": "#555", "opacity": 1}, "encoding": {"x": {"datum": 0.07}, "y": {"datum": 1.35}}},
        {"data": {"values": [{}]}, "mark": {"type": "point", "shape": "triangle-up", "size": 14, "filled": true, "color": "#555", "opacity": 1}, "encoding": {"x": {"datum": 0.07}, "y": {"datum": 1.05}}},
        {"data": {"values": [{}]}, "mark": {"type": "point", "shape": "triangle-down", "size": 14, "filled": true, "color": "#555", "opacity": 1}, "encoding": {"x": {"datum": 0.07}, "y": {"datum": 0.8}}},
        {"data": {"name": "capE"}, "transform": [{"filter": "datum.state === '10'"}], "mark": {"type": "point", "shape": "M0,-1L0.235,-0.324L0.951,-0.309L0.38,0.124L0.588,0.809L0,0.4L-0.588,0.809L-0.38,0.124L-0.951,-0.309L-0.235,-0.324Z", "size": 45, "filled": true, "fill": "white", "stroke": "#2A8F86", "strokeWidth": 1, "opacity": 1},
         "encoding": {"x": {"field": "V", "type": "quantitative"}, "y": {"field": "C", "type": "quantitative"}}},
        {"data": {"name": "capE"}, "transform": [{"filter": "datum.state === '01'"}], "mark": {"type": "point", "shape": "circle", "size": 70, "filled": true, "fill": "white", "stroke": "#F58A2B", "strokeWidth": 1, "opacity": 1},
         "encoding": {"x": {"field": "V", "type": "quantitative"}, "y": {"field": "C", "type": "quantitative"}}},
        {"data": {"name": "capE"}, "transform": [{"filter": "datum.state === '00'"}], "mark": {"type": "point", "shape": "M-0.7,-1H0.7V1H-0.7Z", "size": 42, "filled": true, "fill": "white", "stroke": "#777", "strokeWidth": 1, "opacity": 1},
         "encoding": {"x": {"field": "V", "type": "quantitative"}, "y": {"field": "C", "type": "quantitative"}}},
        {"data": {"name": "bfE"}, "mark": {"type": "point", "shape": "circle", "size": 26, "filled": true, "fill": "#9a9a9a", "stroke": "#777", "strokeWidth": 0.6, "opacity": 1},
         "encoding": {"x": {"field": "V", "type": "quantitative"}, "y": {"field": "C", "type": "quantitative"}}},
        {"data": {"values": [{}]}, "mark": {"type": "text", "text": "Before", "align": "center", "fontSize": 9, "color": "#222"}, "encoding": {"x": {"datum": -0.25}, "y": {"datum": 766}}},
        {"data": {"values": [{}]}, "mark": {"type": "text", "text": "Forming", "align": "center", "fontSize": 9, "color": "#222"}, "encoding": {"x": {"datum": -0.23}, "y": {"datum": 528}}},
        {"data": {"values": [{}]}, "mark": {"type": "text", "text": "V", "align": "left", "fontSize": 9, "color": "#222"}, "encoding": {"x": {"datum": 0.075}, "y": {"datum": 766}}},
        {"data": {"values": [{}]}, "mark": {"type": "text", "text": "READ", "align": "left", "fontSize": 4.5, "color": "#222"}, "encoding": {"x": {"datum": 0.135}, "y": {"datum": 690}}},
        {"data": {"values": [{}]}, "mark": {"type": "text", "text": ": 0.1 V", "align": "left", "fontSize": 9, "color": "#222"}, "encoding": {"x": {"datum": 0.26}, "y": {"datum": 766}}},
        {"data": {"values": [{}]}, "mark": {"type": "text", "text": "~0.9x10¹", "align": "center", "fontSize": 9, "color": "#222"}, "encoding": {"x": {"datum": -0.12}, "y": {"datum": 135}}},
        {"data": {"values": [{}]}, "mark": {"type": "text", "text": "~0.8x10¹", "align": "center", "fontSize": 9, "color": "#222"}, "encoding": {"x": {"datum": -0.1}, "y": {"datum": 14.7}}},
        {"data": {"values": [{}]}, "mark": {"type": "text", "text": "~0.5x10¹", "align": "center", "fontSize": 9, "color": "#222"}, "encoding": {"x": {"datum": -0.1}, "y": {"datum": 3.0}}},
        {"data": {"values": [{}]}, "mark": {"type": "text", "text": "~0.5x10¹", "align": "center", "fontSize": 9, "color": "#222"}, "encoding": {"x": {"datum": -0.1}, "y": {"datum": 0.9}}},
        {"data": {"values": [{}]}, "mark": {"type": "text", "text": "11", "align": "left", "fontSize": 14, "color": "#111"}, "encoding": {"x": {"datum": 0.43}, "y": {"datum": 42}}},
        {"data": {"values": [{}]}, "mark": {"type": "text", "text": "10", "align": "left", "fontSize": 14, "color": "#111"}, "encoding": {"x": {"datum": 0.43}, "y": {"datum": 19.8}}},
        {"data": {"values": [{}]}, "mark": {"type": "text", "text": "01", "align": "left", "fontSize": 14, "color": "#111"}, "encoding": {"x": {"datum": 0.43}, "y": {"datum": 8.1}}},
        {"data": {"values": [{}]}, "mark": {"type": "text", "text": "00", "align": "left", "fontSize": 14, "color": "#111"}, "encoding": {"x": {"datum": 0.43}, "y": {"datum": 0.69}}},
        {"data": {"values": [{}]}, "mark": {"type": "text", "text": "e", "align": "left", "fontSize": 22, "color": "#111"}, "encoding": {"x": {"datum": -1.03}, "y": {"datum": 1200}}}
      ]}
    ], "spacing": 47, "bounds": "flush"}
  ], "spacing": 61, "bounds": "flush"}
]
}
